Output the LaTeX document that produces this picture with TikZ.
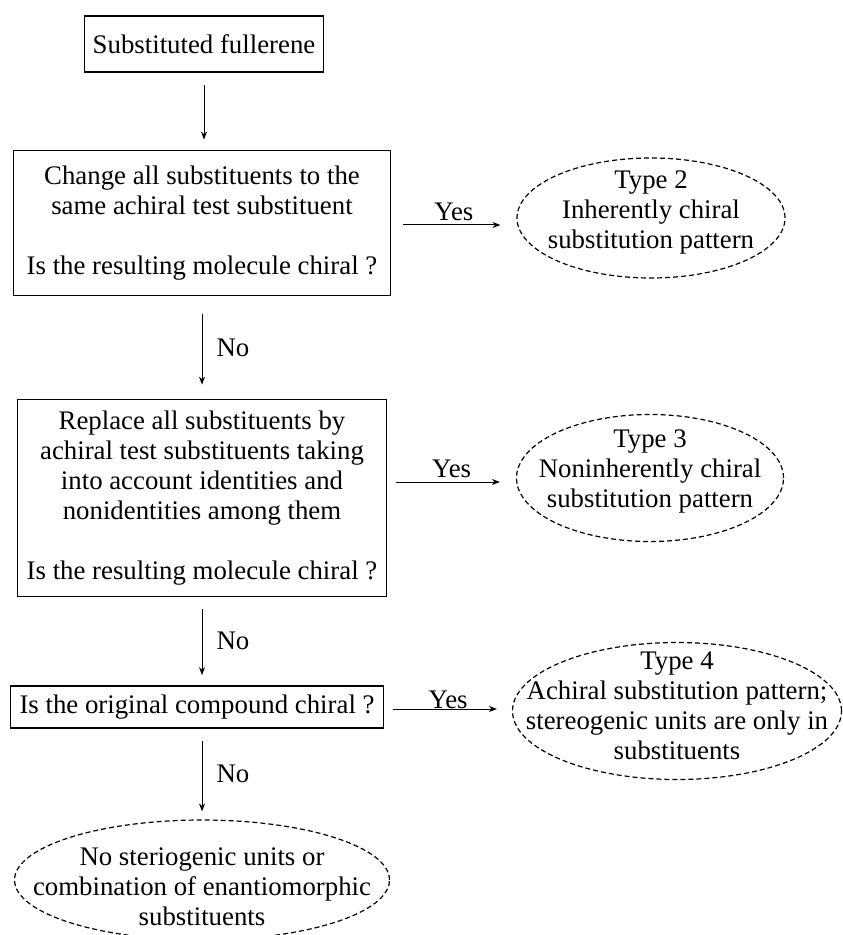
\documentclass[tikz,border=0pt]{standalone}
\usepackage{fontspec}
\setmainfont{Liberation Serif}
\usetikzlibrary{arrows.meta,shapes.geometric}
\begin{document}
\begin{tikzpicture}[x=0.5pt,y=-0.5pt,
  font=\fontsize{13.4}{15}\selectfont,
  box/.style={draw,line width=0.9pt,align=center,inner sep=0pt},
  term/.style={draw,ellipse,dash pattern=on 2.5pt off 1.5pt,line width=0.6pt,inner sep=0pt},
  txt/.style={align=center,inner sep=0pt},
  arr/.style={-{Stealth[length=4pt,width=3pt]},line width=0.5pt},
  lab/.style={inner sep=1pt}]
\useasboundingbox (0,0) rectangle (842,935);
% boxes
\node[box,minimum width=119.5pt,minimum height=28pt] (b1) at (204,44) {Substituted fullerene};
\node[box,minimum width=188.5pt,minimum height=72.5pt] (b2) at (202,223)
  {Change all substituents to the\\ same achiral test substituent\\[15pt] Is the resulting molecule chiral ?};
\node[box,minimum width=184.5pt,minimum height=98.5pt] (b3) at (202,498)
  {Replace all substituents by\\ achiral test substituents taking\\ into account identities and\\ nonidentities among them\\[15pt] Is the resulting molecule chiral ?};
\node[box,minimum width=186.5pt,minimum height=21pt] (b4) at (197,707) {Is the original compound chiral ?};
% terminals
\node[term,minimum width=134pt,minimum height=60pt] (t2) at (651,218) {};
\node[txt] (t2t) at (651,212) {Type 2\\ Inherently chiral\\ substitution pattern};
\node[term,minimum width=133.5pt,minimum height=63.5pt] (t3) at (650,478) {};
\node[txt] (t3t) at (650,471) {Type 3\\ Noninherently chiral\\ substitution pattern};
\node[term,minimum width=164.5pt,minimum height=68.5pt] (t4) at (677,711) {};
\node[txt] (t4t) at (677,706) {Type 4\\ Achiral substitution pattern;\\ stereogenic units are only in\\ substituents};
\node[term,minimum width=187.5pt,minimum height=60pt] (t5) at (202,880) {};
\node[txt] (t5t) at (202,887) {No steriogenic units or\\ combination of enantiomorphic\\ substituents};
% vertical arrows
\draw[arr,shorten <=6pt,shorten >=5pt] (b1.south) -- (b1.south |- b2.north);
\draw[arr,shorten <=9pt,shorten >=7pt] (b2.south) -- (b2.south |- b3.north)
  node[lab,midway,right,xshift=6pt] (n1) {No};
\draw[arr,shorten <=6pt,shorten >=5pt] (b3.south) -- (b3.south |- b4.north)
  node[lab,midway,right,xshift=6pt] (n2) {No};
\draw[arr,shorten <=6pt,shorten >=4pt] (b3.south |- b4.south) -- (b3.south |- t5.north)
  node[lab,midway,right,xshift=6pt] (n3) {No};
% horizontal arrows
\draw[arr,shorten <=6pt,shorten >=8pt] ([yshift=-1pt]b2.east) -- ([yshift=-1pt]b2.east -| t2.west)
  node[lab,midway,above,yshift=1pt] (y1) {Yes};
\draw[arr,shorten <=4.5pt,shorten >=8pt] ([yshift=-2pt]t3.west -| b3.east) -- ([yshift=-2pt]t3.west)
  node[lab,midway,above,yshift=1pt] (y2) {Yes};
\draw[arr,shorten <=4.5pt,shorten >=7.5pt] ([yshift=-1pt]b4.east) -- ([yshift=-1pt]b4.east -| t4.west)
  node[lab,midway,above,inner sep=0pt] (y3) {Yes};
\end{tikzpicture}
\end{document}
